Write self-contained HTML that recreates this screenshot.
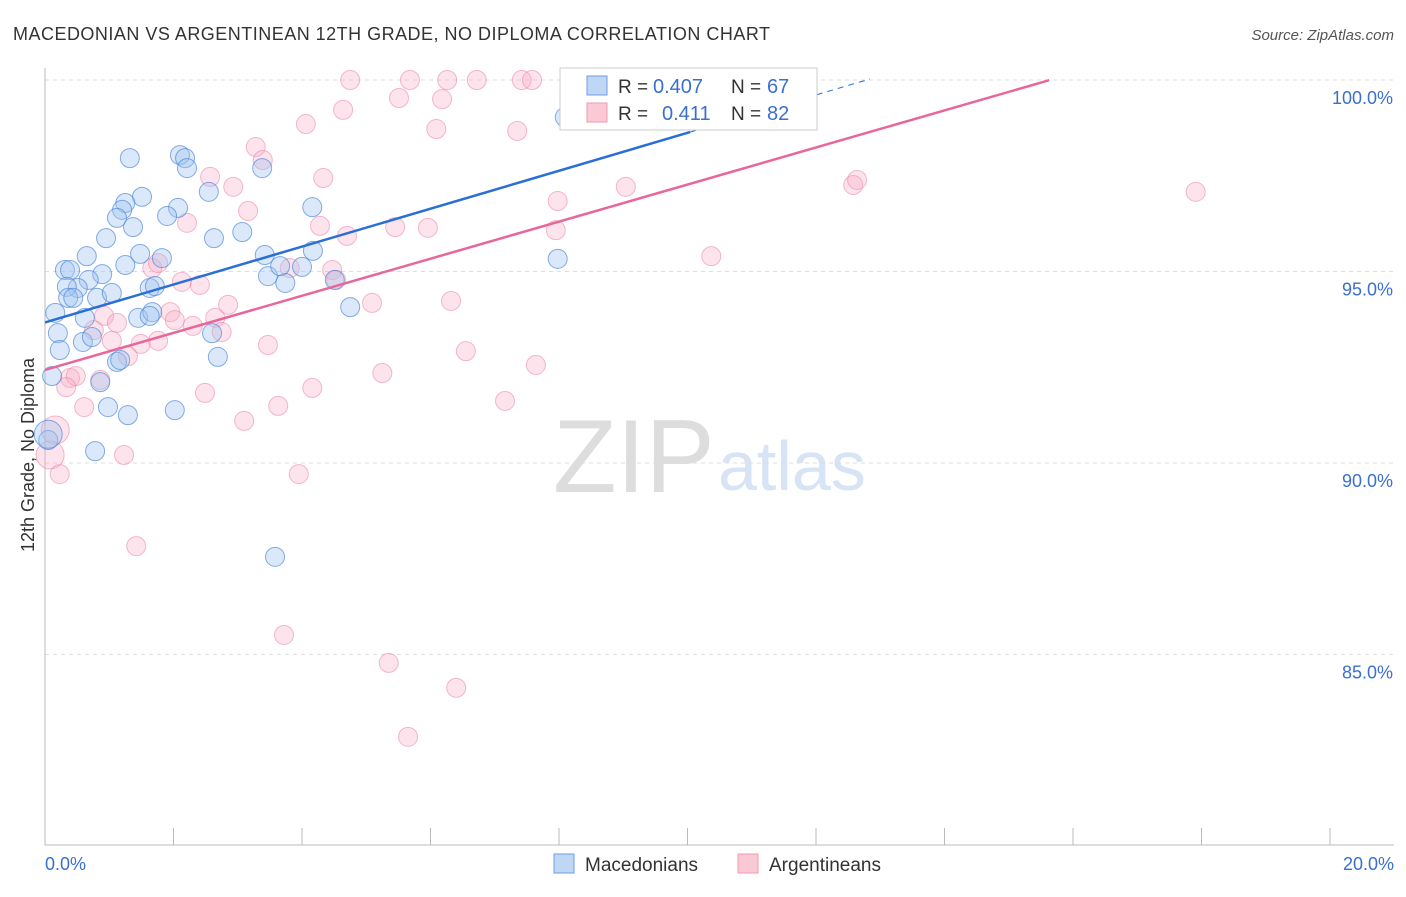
<!DOCTYPE html>
<html><head><meta charset="utf-8"><style>
body{margin:0;background:#fff;font-family:"Liberation Sans",sans-serif;}
svg text{font-family:"Liberation Sans",sans-serif;}
</style></head><body>
<svg id="chart" width="1406" height="892" viewBox="0 0 1406 892" xmlns="http://www.w3.org/2000/svg">
<text x="13" y="40" font-size="18" fill="#333" textLength="757" lengthAdjust="spacing">MACEDONIAN VS ARGENTINEAN 12TH GRADE, NO DIPLOMA CORRELATION CHART</text>
<text x="1394" y="40" font-size="15" fill="#555" text-anchor="end" font-style="italic">Source: ZipAtlas.com</text>
<g>
<text x="553" y="492" font-size="104" fill="#ddd" font-family="Liberation Serif,serif">ZIP</text>
<text x="718" y="490" font-size="70" fill="#d6e4f6">atlas</text>
</g>
<g id="grid"></g>
<g id="axes"></g>
<g id="pts"></g>
<g id="lines"></g>
<text transform="translate(34,455) rotate(-90)" font-size="18" fill="#333" text-anchor="middle">12th Grade, No Diploma</text>
<g>
<rect x="560" y="68" width="257" height="62" fill="#fff" stroke="#ccc"/>
<rect x="587" y="76" width="20" height="19" fill="#c0d6f5" stroke="#6c9de6"/>
<rect x="587" y="103" width="20" height="19" fill="#fbc9d6" stroke="#ee9ab2"/>
<text x="618" y="93" font-size="19" fill="#333">R =</text>
<text x="653" y="93" font-size="20" fill="#3a6fd0">0.407</text>
<text x="731" y="93" font-size="19" fill="#333">N =</text>
<text x="767" y="93" font-size="20" fill="#3a6fd0">67</text>
<text x="618" y="120" font-size="19" fill="#333">R =</text>
<text x="662" y="120" font-size="20" fill="#3a6fd0">0.411</text>
<text x="731" y="120" font-size="19" fill="#333">N =</text>
<text x="767" y="120" font-size="20" fill="#3a6fd0">82</text>
</g>
<g>
<rect x="554" y="854" width="20" height="19" fill="#c0d6f5" stroke="#6c9de6"/>
<text x="585" y="871" font-size="19" fill="#333">Macedonians</text>
<rect x="738" y="854" width="20" height="19" fill="#fbc9d6" stroke="#ee9ab2"/>
<text x="769" y="871" font-size="19" fill="#333">Argentineans</text>
</g>
</svg>
<script>
const blueX=[1.32,2.10,2.18,2.21,1.51,1.25,1.20,1.12,1.37,0.95,0.65,0.31,0.39,0.89,1.25,1.48,1.82,1.63,1.71,0.68,0.51,0.34,0.36,0.44,0.81,1.04,0.16,0.62,0.20,0.23,0.59,0.73,1.45,1.67,1.63,1.12,1.17,0.11,0.86,0.98,1.29,0.78,0.05,2.02,2.69,2.60,2.63,3.07,2.55,2.07,1.90,3.38,3.42,3.47,3.74,4.00,4.16,4.17,4.51,4.75,3.58,7.98,8.09,3.66,0.05];
const blueY=[97.96,98.04,97.96,97.70,96.95,96.79,96.61,96.40,96.16,95.87,95.40,95.04,95.04,94.93,95.17,95.46,95.35,94.57,94.62,94.78,94.57,94.60,94.31,94.31,94.31,94.44,93.92,93.79,93.39,92.95,93.16,93.29,93.79,93.94,93.84,92.64,92.69,92.27,92.11,91.46,91.25,90.31,90.60,91.38,92.77,93.39,95.87,96.03,97.08,96.66,96.45,97.70,95.43,94.88,94.70,95.12,96.68,95.54,94.78,94.07,87.55,95.33,99.03,95.14,90.75];
const pinkX=[4.75,5.68,6.26,6.72,7.42,7.58,8.25,4.64,5.51,6.18,4.06,6.09,7.35,3.28,3.39,4.33,2.57,2.93,3.16,2.21,4.28,4.70,5.45,5.96,7.98,7.95,9.04,12.58,12.64,17.91,10.37,1.67,1.76,2.13,2.41,4.47,4.53,3.81,5.09,6.32,1.95,2.02,2.30,2.65,2.85,2.75,0.92,1.12,0.76,1.04,1.49,1.76,1.29,0.86,0.39,0.48,0.33,3.47,6.55,7.64,5.25,4.16,2.49,3.63,7.16,0.61,3.10,1.23,0.16,0.08,0.23,3.95,1.42,3.72,5.35,6.40,5.65];
const pinkY=[100,100,100,100,100,100,100,99.22,99.53,99.50,98.85,98.72,98.67,98.25,97.91,97.44,97.47,97.21,96.58,96.27,96.19,95.93,96.16,96.14,96.84,96.08,97.21,97.26,97.39,97.08,95.40,95.09,95.22,94.73,94.65,95.04,94.78,95.09,94.18,94.23,93.94,93.73,93.58,93.79,94.13,93.42,93.84,93.66,93.47,93.19,93.11,93.19,92.79,92.17,92.22,92.27,91.98,93.08,92.92,92.56,92.35,91.96,91.83,91.49,91.62,91.46,91.10,90.21,90.86,90.21,89.71,89.71,87.83,85.51,84.78,84.13,82.85];
const bigBlue=[64];
const bigPink=[68,69];
const yTicks=[100,95,90,85];
const yTickLabels=["100.0%","95.0%","90.0%","85.0%"];
const xTicks=[0,2,4,6,8,10,12,14,16,18,20];
const blueTrend=[93.67,0.495];
const pinkTrend=[92.43,0.484];
const blueSolidEnd=10.04, blueDashEnd=12.84, pinkEnd=15.63;

const NS="http://www.w3.org/2000/svg";
const X=v=>45+v/20*1285;
const Y=v=>80+(100-v)/5*191.5;
function mk(tag,attrs,parent){const e=document.createElementNS(NS,tag);for(const k in attrs)e.setAttribute(k,attrs[k]);parent.appendChild(e);return e;}
const grid=document.getElementById('grid'),axes=document.getElementById('axes'),pts=document.getElementById('pts'),lines=document.getElementById('lines');
yTicks.forEach((t,i)=>{
  const l=mk('line',{x1:45,x2:1394,y1:Y(t),y2:Y(t),stroke:'#ddd','stroke-dasharray':'4,4'},grid);
  
  
  const tx=mk('text',{x:1393,y:Y(t)+24,'font-size':18,fill:'#3a6fd0','text-anchor':'end'},axes);
  tx.textContent=yTickLabels[i];
  
  
});
const ax=mk('line',{x1:45,x2:45,y1:68,y2:845,stroke:'#bbb'},axes);


const bx=mk('line',{x1:45,x2:1394,y1:845,y2:845,stroke:'#bbb'},axes);


xTicks.forEach(t=>{
  const l=mk('line',{x1:X(t),x2:X(t),y1:828,y2:845,stroke:'#bbb'},axes);
  
  
});
const x0=mk('text',{x:45,y:870,'font-size':18,fill:'#3a6fd0'},axes);x0.textContent='0.0%';


const x1=mk('text',{x:1394,y:870,'font-size':18,fill:'#3a6fd0','text-anchor':'end'},axes);x1.textContent='20.0%';


pinkX.forEach((v,i)=>{
  const c=mk('circle',{cx:X(v),cy:Y(pinkY[i]),r:bigPink.includes(i)?14:9.5,fill:'rgba(248,170,195,0.32)',stroke:'rgba(235,130,165,0.55)','stroke-width':1},pts);
  
  
});
blueX.forEach((v,i)=>{
  const c=mk('circle',{cx:X(v),cy:Y(blueY[i]),r:bigBlue.includes(i)?14:9.5,fill:'rgba(160,195,240,0.38)',stroke:'rgba(70,130,215,0.65)','stroke-width':1},pts);
  
  
});
const bl=mk('line',{x1:X(0),y1:Y(blueTrend[0]),x2:X(blueSolidEnd),y2:Y(blueTrend[0]+blueTrend[1]*blueSolidEnd),stroke:'#2a6fd6','stroke-width':2.5},lines);


const bd=mk('line',{x1:X(blueSolidEnd),y1:Y(blueTrend[0]+blueTrend[1]*blueSolidEnd),x2:X(blueDashEnd),y2:Y(blueTrend[0]+blueTrend[1]*blueDashEnd),stroke:'#2a6fd6','stroke-width':1,'stroke-dasharray':'6,5'},lines);


const pl=mk('line',{x1:X(0),y1:Y(pinkTrend[0]),x2:X(pinkEnd),y2:Y(pinkTrend[0]+pinkTrend[1]*pinkEnd),stroke:'#e8679a','stroke-width':2.5},lines);


</script>
</body></html>
